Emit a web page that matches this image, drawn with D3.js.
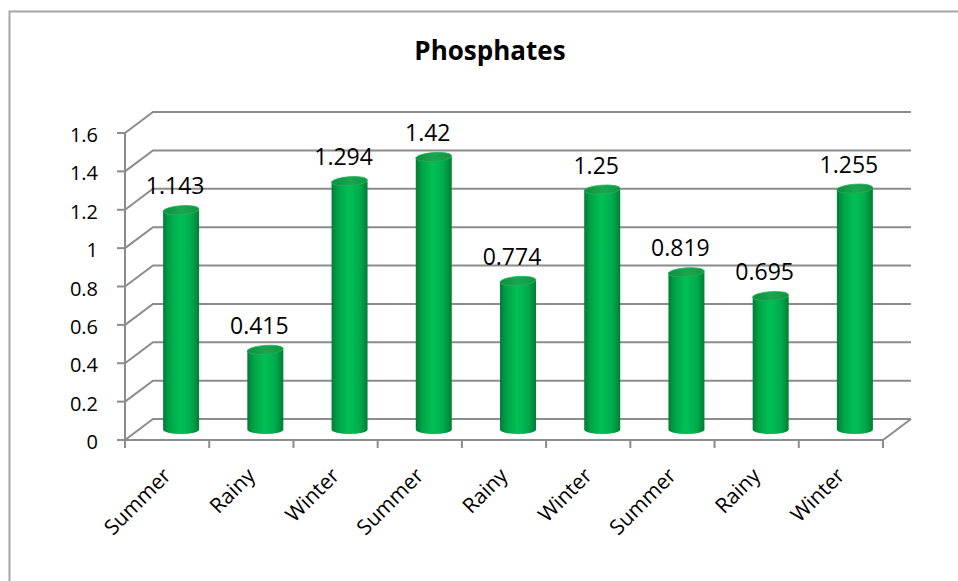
<!DOCTYPE html>
<html>
<head>
<meta charset="utf-8">
<title>Phosphates</title>
<script src="https://cdnjs.cloudflare.com/ajax/libs/d3/7.8.5/d3.min.js"></script>
<style>
body { margin: 0; background: #fff; }
svg text { font-family: "Open Sans", "Noto Sans", sans-serif; fill: #000; }
</style>
</head>
<body>
<div id="chart"></div>
<script>
var categories = ["Summer", "Rainy", "Winter", "Summer", "Rainy", "Winter", "Summer", "Rainy", "Winter"];
var values = [1.143, 0.415, 1.294, 1.42, 0.774, 1.25, 0.819, 0.695, 1.255];
var yTicks = [0, 0.2, 0.4, 0.6, 0.8, 1, 1.2, 1.4, 1.6];
var title = "Phosphates";

var W = 958, H = 581;
// 3D depth offset of the back wall
var depthX = 28, depthY = -21,
    radius = 18, rimY = 4.5,
    gridColor = "#8c8c8c";

var svg = d3.select("#chart").append("svg")
    .attr("width", W)
    .attr("height", H);

// outer frame
svg.append("rect")
    .attr("x", 9.5).attr("y", 11.5)
    .attr("width", 980).attr("height", 600)
    .attr("fill", "none")
    .attr("stroke", "#a6a6a6")
    .attr("stroke-width", 2);

var x = d3.scaleBand()
    .domain(d3.range(categories.length))
    .range([125, 883])
    .padding(0);
var y = d3.scaleLinear()
    .domain([0, 1.6])
    .range([440, 133]);

var defs = svg.append("defs");
var grad = defs.append("linearGradient")
    .attr("id", "body")
    .attr("x1", "0%").attr("x2", "100%")
    .attr("y1", "0%").attr("y2", "0%");
[["0%", "#007d35"], ["18%", "#00a447"], ["48%", "#00c056"], ["78%", "#00ab4c"], ["100%", "#007e35"]]
    .forEach(function(s) { grad.append("stop").attr("offset", s[0]).attr("stop-color", s[1]); });
var topGrad = defs.append("linearGradient")
    .attr("id", "top")
    .attr("x1", "0%").attr("x2", "100%")
    .attr("y1", "0%").attr("y2", "0%");
[["0%", "#0c8f3e"], ["50%", "#1aa650"], ["100%", "#12953f"]]
    .forEach(function(s) { topGrad.append("stop").attr("offset", s[0]).attr("stop-color", s[1]); });

var x0 = x.range()[0], x1 = x.range()[1];

// back wall gridlines + side wall diagonals
var grid = svg.append("g").attr("class", "grid")
    .attr("stroke", gridColor)
    .attr("stroke-width", 2)
    .attr("fill", "none");
yTicks.forEach(function(t) {
    grid.append("path")
        .attr("d", "M" + x0 + "," + y(t) +
                   "L" + (x0 + depthX) + "," + (y(t) + depthY) +
                   "L" + (x1 + depthX) + "," + (y(t) + depthY));
});
// floor front edge + right side
grid.append("path")
    .attr("d", "M" + x0 + "," + y(0) + "L" + x1 + "," + y(0) +
               "L" + (x1 + depthX) + "," + (y(0) + depthY));

// y axis
var yAxis = svg.append("g").attr("class", "y axis");
yAxis.append("line")
    .attr("x1", x0).attr("x2", x0)
    .attr("y1", y(1.6)).attr("y2", y(0))
    .attr("stroke", gridColor).attr("stroke-width", 2);
yAxis.selectAll(".tick")
    .data(yTicks)
  .enter().append("line")
    .attr("x1", x0 - 8).attr("x2", x0)
    .attr("y1", d => y(d)).attr("y2", d => y(d))
    .attr("stroke", gridColor).attr("stroke-width", 2);
yAxis.selectAll("text")
    .data(yTicks)
  .enter().append("text")
    .attr("x", 98)
    .attr("y", d => y(d) + 9)
    .attr("text-anchor", "end")
    .style("font-size", "20px")
    .text(d => d);

// x axis ticks
var xAxis = svg.append("g").attr("class", "x axis");
xAxis.selectAll("line")
    .data(d3.range(categories.length + 1))
  .enter().append("line")
    .attr("x1", d => x0 + d * x.bandwidth())
    .attr("x2", d => x0 + d * x.bandwidth())
    .attr("y1", y(0)).attr("y2", y(0) + 8)
    .attr("stroke", gridColor).attr("stroke-width", 2);
xAxis.selectAll("text")
    .data(categories)
  .enter().append("text")
    .attr("text-anchor", "end")
    .attr("transform", function(d, i) {
        var cx = x(i) + x.bandwidth() / 2 + 5;
        return "translate(" + cx + "," + 477 + ") rotate(-45)";
    })
    .style("font-size", "21px")
    .text(d => d);

// cylinders
var baseY = y(0) + depthY / 2;
var bars = svg.selectAll(".bar")
    .data(values)
  .enter().append("g")
    .attr("class", "bar")
    .attr("transform", function(d, i) {
        return "translate(" + (x(i) + x.bandwidth() / 2 + depthX / 2) + ",0)";
    });

bars.append("path")
    .attr("fill", "url(#body)")
    .attr("d", function(d) {
        var top = y(d) + depthY / 2;
        return "M" + (-radius) + "," + top +
               "L" + (-radius) + "," + baseY +
               "A" + radius + "," + rimY + " 0 0 0 " + radius + "," + baseY +
               "L" + radius + "," + top + "Z";
    });
bars.append("ellipse")
    .attr("cx", 0)
    .attr("cy", d => y(d) + depthY / 2)
    .attr("rx", radius)
    .attr("ry", rimY)
    .attr("fill", "url(#top)")
    .attr("stroke", "#22b35a")
    .attr("stroke-width", 0.8)
    .attr("transform", d => "rotate(-4,0," + (y(d) + depthY / 2) + ")");

// value labels
bars.append("text")
    .attr("x", -6)
    .attr("y", d => y(d) + depthY / 2 - 16)
    .attr("text-anchor", "middle")
    .style("font-size", "23px")
    .text(d => d);

// title
svg.append("text")
    .attr("x", 490)
    .attr("y", 60)
    .attr("text-anchor", "middle")
    .style("font-size", "26px")
    .style("font-weight", "bold")
    .text(title);
</script>
</body>
</html>
